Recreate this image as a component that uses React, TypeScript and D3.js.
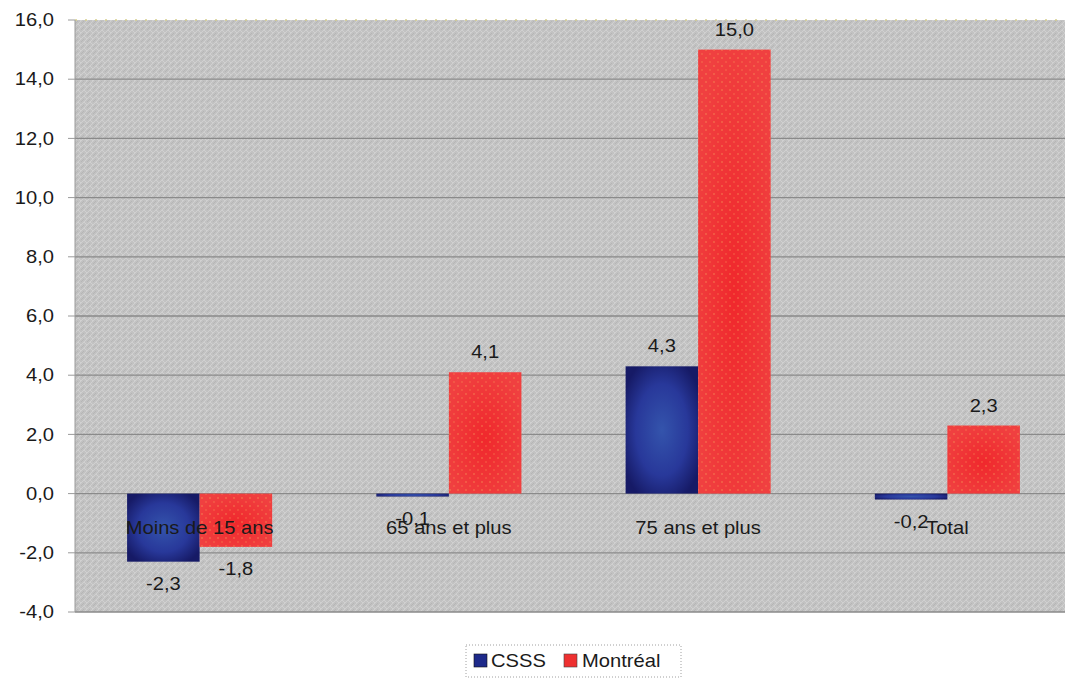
import React from "react";
import * as d3 from "d3";

const categories = ["Moins de 15 ans", "65 ans et plus", "75 ans et plus", "Total"];
const seriesNames = ["CSSS", "Montréal"];
const csssValues = [-2.3, -0.1, 4.3, -0.2];
const montrealValues = [-1.8, 4.1, 15.0, 2.3];
const yTicks = [-4, -2, 0, 2, 4, 6, 8, 10, 12, 14, 16];

const W = 1065;
const H = 678;
const FONT = "'Liberation Sans', Arial, sans-serif";
const SX = 1.12;
const fmt = (v: number) => v.toFixed(1).replace(".", ",");

export default function App() {
  const x0 = d3.scaleBand<string>().domain(categories).range([75, 1072]).paddingInner(0.418).paddingOuter(0.209);
  const x1 = d3.scaleBand<string>().domain(seriesNames).range([0, x0.bandwidth()]);
  const y = d3.scaleLinear().domain([-4, 16]).range([612, 20]);
  const plotL = 75;
  const plotR = 1072;
  const seriesVals = [csssValues, montrealValues];
  const fills = ["url(#gBlue)", "url(#gRed)"];

  const txt = (x: number, yy: number, s: string, anchor: string, size = 18, fill = "#1a1a1a") => (
    <g transform={`translate(${x},${yy}) scale(${SX},1)`}>
      <text textAnchor={anchor as any} dominantBaseline="central" fontFamily={FONT} fontSize={size} fill={fill}>
        {s}
      </text>
    </g>
  );

  return (
    <div style={{ position: "fixed", left: 0, top: 0, width: W, height: H, background: "#fff" }}>
      <svg width={W} height={H} style={{ display: "block" }}>
        <defs>
          <pattern id="bgPat" width="6" height="6" patternUnits="userSpaceOnUse">
            <rect width="6" height="6" fill="#c2c2c2" />
            <path d="M0 0 L3 3 M3 3 L6 0 M0 6 L3 3" stroke="#d0d0d0" strokeWidth="1" />
            <path d="M3 6 L6 3" stroke="#b6b6b6" strokeWidth="1" />
          </pattern>
          <radialGradient id="gBlue" cx="50%" cy="50%" r="60%">
            <stop offset="0%" stopColor="#3454ac" />
            <stop offset="60%" stopColor="#28389a" />
            <stop offset="100%" stopColor="#161a66" />
          </radialGradient>
          <radialGradient id="gRed" cx="50%" cy="55%" r="60%">
            <stop offset="0%" stopColor="#f0282c" />
            <stop offset="100%" stopColor="#f04040" />
          </radialGradient>
          <pattern id="redDots" width="8" height="8" patternUnits="userSpaceOnUse">
            <circle cx="2" cy="2" r="0.8" fill="#f7a25a" opacity="0.7" />
            <circle cx="6" cy="6" r="0.8" fill="#f7a25a" opacity="0.5" />
          </pattern>
        </defs>

        {/* plot background */}
        <rect x={plotL} y={y(16)} width={plotR - plotL} height={y(-4) - y(16)} fill="url(#bgPat)" />
        <line x1={plotL} x2={plotR} y1={y(16)} y2={y(16)} stroke="#d8d08a" strokeWidth={1.5} strokeDasharray="2 8" />

        {/* gridlines */}
        {yTicks.filter((t) => t !== 16).map((t) => (
          <line key={t} x1={plotL} x2={plotR} y1={y(t)} y2={y(t)} stroke="#8a8a8a" strokeWidth={1.3} />
        ))}
        {/* axis & ticks */}
        <line x1={plotL} x2={plotL} y1={y(16)} y2={y(-4)} stroke="#9a9a9a" strokeWidth={1} />
        {yTicks.map((t) => (
          <line key={"tk" + t} x1={plotL - 7} x2={plotL} y1={y(t)} y2={y(t)} stroke="#9a9a9a" strokeWidth={1} />
        ))}
        {yTicks.map((t) => (
          <g key={"yl" + t}>{txt(54, y(t), fmt(t), "end", 18, "#1a1a1a")}</g>
        ))}

        {/* bars */}
        {categories.map((c, i) => (
          <g key={c}>
            {seriesNames.map((s, j) => {
              const v = seriesVals[j][i];
              const bx = (x0(c) ?? 0) + (x1(s) ?? 0);
              const by = Math.min(y(v), y(0));
              const bh = Math.abs(y(v) - y(0));
              return (
                <g key={s}>
                  <rect x={bx} y={by} width={x1.bandwidth()} height={bh} fill={fills[j]} />
                  {j === 1 && <rect x={bx} y={by} width={x1.bandwidth()} height={bh} fill="url(#redDots)" />}
                </g>
              );
            })}
          </g>
        ))}

        {/* category labels */}
        {categories.map((c) => (
          <g key={"cl" + c}>{txt((x0(c) ?? 0) + x0.bandwidth() / 2, 528, c, "middle", 18, "#1a1a1a")}</g>
        ))}

        {/* value labels */}
        {categories.map((c, i) =>
          seriesNames.map((s, j) => {
            const v = seriesVals[j][i];
            const cx = (x0(c) ?? 0) + (x1(s) ?? 0) + x1.bandwidth() / 2;
            const ly = v >= 0 ? y(v) - 20 : y(v) + 22;
            return <g key={"vl" + c + s}>{txt(cx, ly, fmt(v), "middle", 18, "#1a1a1a")}</g>;
          })
        )}

        {/* legend */}
        <rect x={466} y={645} width={215} height={32} fill="#fff" stroke="#a0a0a0" strokeDasharray="1 2" />
        <rect x={474} y={654} width={13} height={13} fill="#1e2a8a" stroke="#111" strokeWidth={0.6} />
        {txt(491, 661, "CSSS", "start", 18, "#1a1a1a")}
        <rect x={564} y={654} width={13} height={13} fill="#ee3030" stroke="#444" strokeWidth={0.6} />
        {txt(582, 661, "Montréal", "start", 18, "#1a1a1a")}
      </svg>
    </div>
  );
}
